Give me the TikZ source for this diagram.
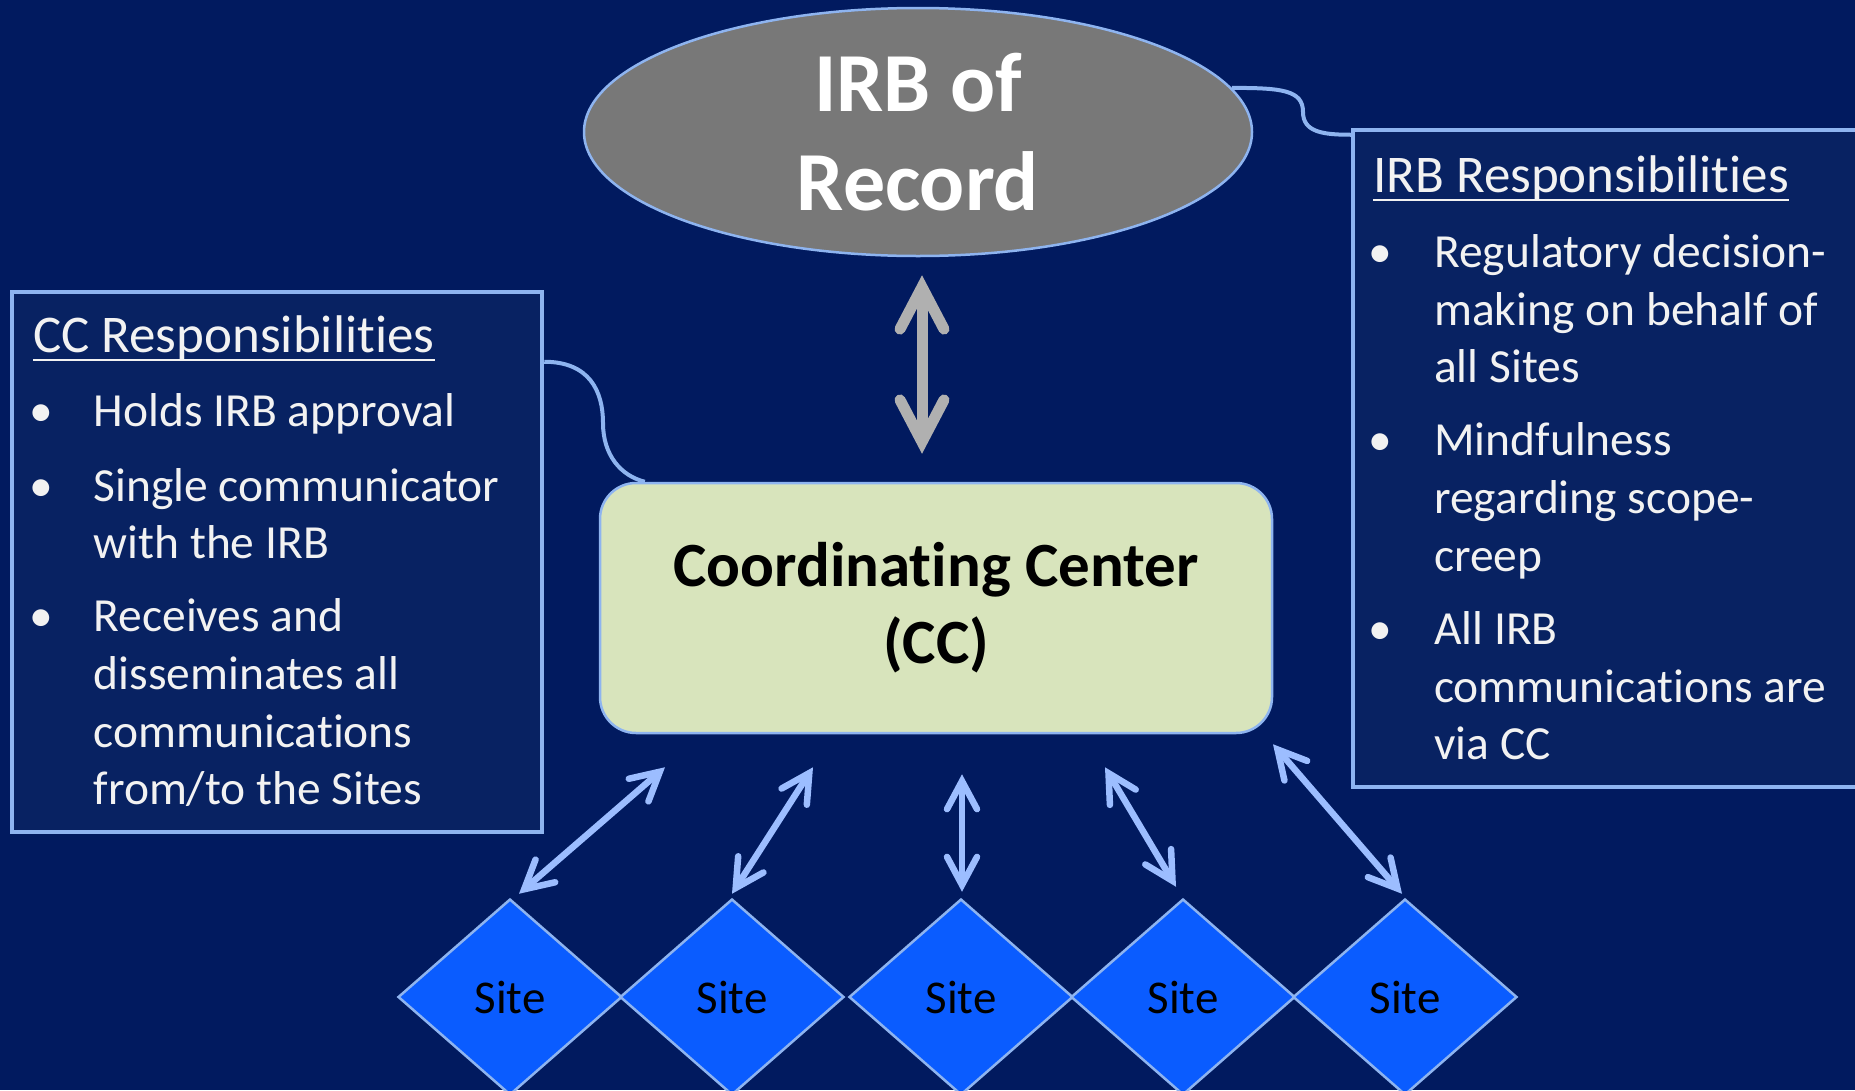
\documentclass[tikz,border=0pt]{standalone}
\usepackage{fontspec}
\setmainfont[Ligatures=NoCommon]{Carlito}
\usetikzlibrary{arrows.meta,shapes.geometric}
\definecolor{bgc}{HTML}{011A5F}
\definecolor{boxc}{HTML}{082262}
\definecolor{edgec}{HTML}{8EB4F0}
\definecolor{arrc}{HTML}{9CBDFF}
\definecolor{grayarr}{HTML}{B0B0B0}
\definecolor{ellc}{HTML}{787878}
\definecolor{ccfill}{HTML}{D8E4BC}
\definecolor{sitec}{HTML}{0A5CFF}
\definecolor{txtc}{HTML}{F2F2F2}
\begin{document}
\begin{tikzpicture}[x=1pt,y=-1pt,
  respbox/.style={draw=edgec, line width=4.5pt, fill=boxc, inner sep=0pt},
  bodytxt/.style={anchor=base west, inner sep=0pt, text=txtc, font=\fontsize{47.5}{57}\selectfont},
  titletxt/.style={anchor=base west, inner sep=0pt, text=txtc, font=\fontsize{53}{64}\selectfont},
  uline/.style={draw=txtc, line width=2.5pt},
  sitebox/.style={shape=diamond, draw=edgec, line width=2.5pt, fill=sitec, inner sep=0pt,
    minimum width=224pt, minimum height=196pt, font=\fontsize{47}{56}\selectfont, text=black},
  sitearrow/.style={draw=arrc, line width=6.5pt, >={Straight Barb[length=28pt,width=30pt,line cap=round]}, <->},
  grayarrow/.style={draw=grayarr, line width=11pt, >={Straight Barb[length=42pt,width=44pt,line cap=round]}, <->},
  callout/.style={draw=edgec, line width=4pt},
]
\useasboundingbox (0,0) rectangle (1855,1090);
\fill[bgc] (0,0) rectangle (1855,1090);

% IRB of Record
\node[shape=ellipse, draw=edgec, line width=2.5pt, fill=ellc, inner sep=0pt,
  minimum width=668pt, minimum height=248pt, align=center, text=white,
  font=\bfseries\fontsize{84}{99}\selectfont] (irb) at (918,132) {IRB of\\Record};

% Coordinating Center
\node[draw=edgec, line width=2.5pt, fill=ccfill, rounded corners=36pt,
  minimum width=672pt, minimum height=250pt, align=center, text=black,
  font=\bfseries\fontsize{63}{77}\selectfont] (cc) at (936,608) {Coordinating Center\\(CC)};

% CC responsibilities box
\node[respbox, minimum width=530pt, minimum height=540pt] (ccr) at (277,562) {};
\node[titletxt] (cct) at (33,352) {CC Responsibilities};
\draw[uline] ([shift={(0,8)}]cct.base west) -- ([shift={(0,8)}]cct.base east);
\node[bodytxt] (ccb1) at (29,426) {•};
\node[bodytxt] (ccb2) at (29,501) {•};
\node[bodytxt] (ccb3) at (29,631) {•};
\node[bodytxt] (cc1) at (93.5,426) {Holds IRB approval};
\node[bodytxt] (cc2) at (93.5,501) {Single communicator};
\node[bodytxt] (cc3) at (93.5,558) {with the IRB};
\node[bodytxt] (cc4) at (93.5,631) {Receives and};
\node[bodytxt] (cc5) at (93.5,689) {disseminates all};
\node[bodytxt] (cc6) at (93.5,747) {communications};
\node[bodytxt] (cc7) at (93.5,804) {from/to the Sites};

% IRB responsibilities box
\node[respbox, minimum width=517pt, minimum height=657pt] (irr) at (1611.5,458.5) {};
\node[titletxt] (irt) at (1373,192) {IRB Responsibilities};
\draw[uline] ([shift={(0,8)}]irt.base west) -- ([shift={(0,8)}]irt.base east);
\node[bodytxt] (irb1) at (1368,267) {•};
\node[bodytxt] (irb2) at (1368,455) {•};
\node[bodytxt] (irb3) at (1368,644) {•};
\node[bodytxt] (ir1) at (1434,267) {Regulatory decision-};
\node[bodytxt] (ir2) at (1434,325) {making on behalf of};
\node[bodytxt] (ir3) at (1434,382) {all Sites};
\node[bodytxt] (ir4) at (1434,455) {Mindfulness};
\node[bodytxt] (ir5) at (1434,513) {regarding scope-};
\node[bodytxt] (ir6) at (1434,571) {creep};
\node[bodytxt] (ir7) at (1434,644) {All IRB};
\node[bodytxt] (ir8) at (1434,702) {communications are};
\node[bodytxt] (ir9) at (1434,759) {via CC};

% callout curves
\coordinate (rmid) at (1303,112);
\draw[callout] (irb.8.6) .. controls +(50,0) and +(0,-22) .. (rmid)
  .. controls +(0,20) and +(-28,0) .. ([shift={(0,7)}]irr.north west);
\coordinate (lmid) at (603,423);
\draw[callout] ([shift={(0,72)}]ccr.north east) .. controls +(45,0) and +(0,-32) .. (lmid)
  .. controls +(0,32) and +(-24,-6) .. ([shift={(46,0)}]cc.north west);

% sites
\node[sitebox] (s1) at (510,997) {Site};
\node[sitebox] (s2) at (732,997) {Site};
\node[sitebox] (s3) at (961,997) {Site};
\node[sitebox] (s4) at (1183,997) {Site};
\node[sitebox] (s5) at (1405,997) {Site};

% arrows
\draw[grayarrow] ([shift={(4,18)}]irb.south) -- ([shift={(-14,-28)}]cc.north);
\draw[sitearrow] ([shift={(9,-4)}]s1.north) -- ([shift={(-271,33)}]cc.south);
\draw[sitearrow] ([shift={(0,-4)}]s2.north) -- ([shift={(-123,33)}]cc.south);
\draw[sitearrow] ([shift={(1,-6)}]s3.north) -- ([shift={(26,40)}]cc.south);
\draw[sitearrow] ([shift={(-7,-11)}]s4.north) -- ([shift={(169,33)}]cc.south);
\draw[sitearrow] ([shift={(-3,-4)}]s5.north) -- ([shift={(337,10)}]cc.south);
\end{tikzpicture}
\end{document}
